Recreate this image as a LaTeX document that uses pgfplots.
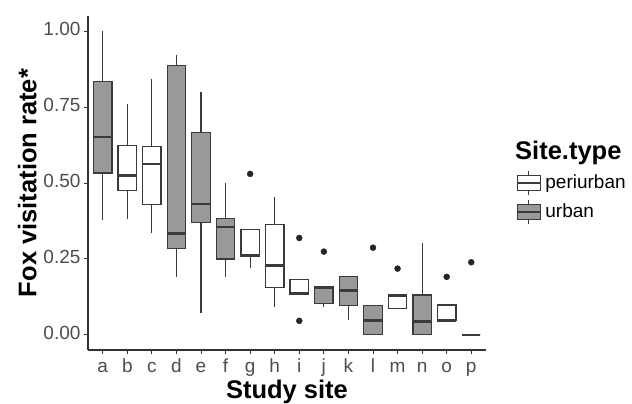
\documentclass[border=0pt]{standalone}
\usepackage{fontspec}
\setmainfont{Liberation Sans}
\usepackage{pgfplots}
\pgfplotsset{compat=1.18}
\usepgfplotslibrary{statistics}

\definecolor{boxline}{HTML}{3A3A3A}
\definecolor{urbanfill}{HTML}{999999}
\definecolor{ticktext}{HTML}{4D4D4D}

\pgfplotsset{
  site/.style={
    boxplot/draw direction=y,
    boxplot/box extend=0.75,
    boxplot/whisker extend=0,
    boxplot/every median/.style={line width=2.6pt, draw=boxline},
    boxplot/every box/.style={line width=1.2pt, draw=boxline},
    boxplot/every whisker/.style={line width=1.2pt, draw=boxline},
    mark=*, mark size=3pt, mark options={fill=black!85, draw=black!85, solid},
  },
  urban/.style={site, fill=urbanfill, draw=boxline},
  periurban/.style={site, fill=white, draw=boxline},
}

% lower whisker, lower quartile, median, upper quartile, upper whisker
\newcommand{\sitebox}[7]{%
  \addplot[#7, boxplot prepared={draw position=#1,
    lower whisker=#2, lower quartile=#3, median=#4,
    upper quartile=#5, upper whisker=#6}] coordinates {};}

\begin{document}
\begin{tikzpicture}
\begin{axis}[
    width=398pt, height=334pt, scale only axis,
    xmin=0.4, xmax=16.6, ymin=-0.05, ymax=1.05,
    axis x line*=bottom, axis y line*=left,
    axis line style={black!80, line width=1.1pt},
    xtick={1,...,16},
    xticklabels={a,b,c,d,e,f,g,h,i,j,k,l,m,n,o,p},
    typeset ticklabels with strut,
    ytick={0,0.25,0.5,0.75,1},
    yticklabel style={/pgf/number format/.cd, fixed, fixed zerofill, precision=2},
    /pgf/number format/assume math mode=true,
    tick align=outside, major tick length=4pt,
    tick style={black!80, line width=0.9pt},
    tick label style={font=\fontsize{19}{22}\selectfont, text=ticktext},
    xlabel={\textbf{Study site}},
    ylabel={\textbf{Fox visitation rate*}},
    label style={font=\fontsize{25.5}{30}\selectfont},
    xlabel style={yshift=6pt},
    legend style={at={(rel axis cs:1.0754,0.539)}, anchor=north west,
      draw=none, fill=none, inner sep=0pt, row sep=4pt,
      font=\fontsize{19}{22}\selectfont,
      nodes={inner xsep=4pt}},
    legend cell align=left,
  ]
  \coordinate (sw) at (rel axis cs:0,0);

  \addlegendimage{legend image code/.code={
      \draw[boxline, line width=1.1pt] (11.5pt,-12pt) -- (11.5pt,12pt);
      \draw[boxline, fill=white, line width=1.1pt] (0pt,-7.5pt) rectangle (23pt,7.5pt);
      \draw[boxline, line width=2.2pt] (0pt,0pt) -- (23pt,0pt);
  }}
  \addlegendentry{periurban}
  \addlegendimage{legend image code/.code={
      \draw[boxline, line width=1.1pt] (11.5pt,-12pt) -- (11.5pt,12pt);
      \draw[boxline, fill=urbanfill, line width=1.1pt] (0pt,-7.5pt) rectangle (23pt,7.5pt);
      \draw[boxline, line width=2.2pt] (0pt,0pt) -- (23pt,0pt);
  }}
  \addlegendentry{urban}

  \sitebox{1}{0.378}{0.533}{0.651}{0.834}{1.000}{urban}
  \sitebox{2}{0.382}{0.476}{0.525}{0.624}{0.761}{periurban}
  \sitebox{3}{0.335}{0.430}{0.563}{0.619}{0.841}{periurban}
  \sitebox{4}{0.192}{0.285}{0.333}{0.887}{0.923}{urban}
  \sitebox{5}{0.071}{0.369}{0.431}{0.667}{0.800}{urban}
  \sitebox{6}{0.192}{0.250}{0.355}{0.382}{0.500}{urban}
  \addplot[periurban, boxplot prepared={draw position=7,
    lower whisker=0.219, lower quartile=0.258, median=0.262,
    upper quartile=0.348, upper whisker=0.348}]
    table[row sep=\\, y index=0] {data\\ 0.530\\};
  \sitebox{8}{0.093}{0.156}{0.228}{0.364}{0.455}{periurban}
  \addplot[periurban, boxplot prepared={draw position=9,
    lower whisker=0.134, lower quartile=0.134, median=0.138,
    upper quartile=0.183, upper whisker=0.183}]
    table[row sep=\\, y index=0] {data\\ 0.319\\ 0.046\\};
  \addplot[urban, boxplot prepared={draw position=10,
    lower whisker=0.093, lower quartile=0.104, median=0.155,
    upper quartile=0.159, upper whisker=0.159}]
    table[row sep=\\, y index=0] {data\\ 0.274\\};
  \sitebox{11}{0.049}{0.097}{0.145}{0.191}{0.191}{urban}
  \addplot[urban, boxplot prepared={draw position=12,
    lower whisker=0, lower quartile=0, median=0.048,
    upper quartile=0.097, upper whisker=0.097}]
    table[row sep=\\, y index=0] {data\\ 0.287\\};
  \addplot[periurban, boxplot prepared={draw position=13,
    lower whisker=0.087, lower quartile=0.087, median=0.130,
    upper quartile=0.133, upper whisker=0.133}]
    table[row sep=\\, y index=0] {data\\ 0.218\\};
  \sitebox{14}{0}{0}{0.043}{0.131}{0.304}{urban}
  \addplot[periurban, boxplot prepared={draw position=15,
    lower whisker=0.046, lower quartile=0.046, median=0.048,
    upper quartile=0.098, upper whisker=0.098}]
    table[row sep=\\, y index=0] {data\\ 0.191\\};
  \addplot[urban, boxplot prepared={draw position=16,
    lower whisker=0, lower quartile=0, median=0,
    upper quartile=0, upper whisker=0}]
    table[row sep=\\, y index=0] {data\\ 0.239\\};
\end{axis}
\node[anchor=base west, font=\fontsize{25.5}{30}\selectfont\bfseries, inner sep=0pt]
  at ([shift={(427pt,190pt)}]sw) {Site.type};
\pgfresetboundingbox
\path ([shift={(-88pt,-54pt)}]sw) rectangle ++(632pt,404pt);
\end{tikzpicture}
\end{document}
